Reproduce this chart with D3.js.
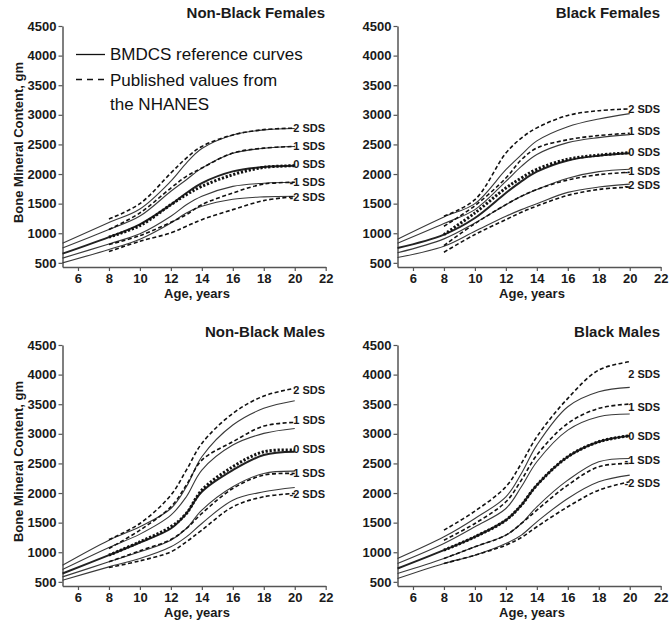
<!DOCTYPE html>
<html>
<head>
<meta charset="utf-8">
<script src="https://cdn.jsdelivr.net/npm/d3@7"></script>
<style>
  body { margin: 0; background: #fff; }
  svg { display: block; font-family: Arial, "Liberation Sans", sans-serif; }
</style>
</head>
<body>
<svg id="chart" width="670" height="625"></svg>
<script>
const refAges = [5, 8, 10, 12, 13, 14, 16, 18, 20];
const nhanesAges = [8, 10, 12, 13, 14, 16, 18, 20];
const sdsLabels = ['2 SDS', '1 SDS', '0 SDS', '-1 SDS', '-2 SDS'];
const xTicks = [6, 8, 10, 12, 14, 16, 18, 20, 22];
const yTicks = [500, 1000, 1500, 2000, 2500, 3000, 3500, 4000, 4500];

// Non-Black Females (rows: +2, +1, 0, -1, -2 SDS)
const nbfRef = [
  [830, 1180, 1410, 1880, 2185, 2430, 2660, 2745, 2770],
  [750, 1062, 1290, 1710, 1904, 2100, 2350, 2435, 2465],
  [655, 935, 1150, 1483, 1680, 1848, 2045, 2120, 2140],
  [580, 820, 990, 1286, 1480, 1624, 1792, 1845, 1860],
  [500, 725, 900, 1174, 1343, 1455, 1575, 1615, 1625]
];
const nbfNhanes = [
  [1240, 1500, 2017, 2270, 2466, 2660, 2750, 2775],
  [1062, 1343, 1764, 1961, 2101, 2354, 2438, 2466],
  [935, 1130, 1483, 1652, 1792, 1989, 2112, 2140],
  [809, 960, 1185, 1315, 1483, 1680, 1831, 1860],
  [690, 865, 1006, 1118, 1230, 1399, 1551, 1620]
];
const nbfLabelY = [2775, 2466, 2165, 1865, 1612];

// Black Females
const bfRef = [
  [900, 1275, 1500, 2073, 2326, 2560, 2800, 2930, 3020],
  [830, 1163, 1399, 1876, 2129, 2330, 2530, 2615, 2665],
  [750, 978, 1258, 1680, 1876, 2040, 2230, 2310, 2350],
  [670, 905, 1174, 1483, 1624, 1740, 1930, 2040, 2080],
  [590, 781, 1034, 1287, 1399, 1500, 1690, 1780, 1830]
];
const bfNhanes = [
  [1287, 1567, 2354, 2607, 2780, 2990, 3070, 3100],
  [1118, 1466, 1933, 2242, 2440, 2580, 2650, 2690],
  [978, 1343, 1764, 1933, 2080, 2250, 2320, 2360],
  [792, 1163, 1483, 1624, 1740, 1900, 1990, 2030],
  [680, 978, 1230, 1354, 1460, 1640, 1740, 1780]
];
const bfLabelY = [3090, 2719, 2365, 2045, 1820];

// Non-Black Males
const nbmRef = [
  [781, 1204, 1430, 1739, 2106, 2613, 3148, 3430, 3559],
  [708, 1080, 1306, 1627, 1937, 2387, 2810, 3007, 3091],
  [641, 951, 1165, 1401, 1655, 2021, 2387, 2641, 2697],
  [584, 838, 1007, 1204, 1401, 1711, 2106, 2331, 2370],
  [528, 753, 894, 1092, 1260, 1486, 1880, 2021, 2094]
];
const nbmNhanes = [
  [1215, 1486, 1965, 2387, 2838, 3345, 3638, 3768],
  [1063, 1373, 1767, 2134, 2556, 2866, 3131, 3193],
  [951, 1176, 1430, 1655, 2049, 2444, 2697, 2725],
  [838, 1024, 1215, 1401, 1655, 2077, 2303, 2331],
  [742, 855, 1007, 1176, 1373, 1767, 1937, 1993]
];
const nbmLabelY = [3739, 3232, 2737, 2331, 1982];

// Black Males
const bmRef = [
  [894, 1260, 1570, 1937, 2331, 2810, 3458, 3711, 3784],
  [810, 1148, 1430, 1739, 2106, 2528, 3063, 3289, 3334],
  [725, 1035, 1260, 1542, 1796, 2134, 2613, 2866, 2968],
  [641, 894, 1092, 1289, 1486, 1768, 2218, 2528, 2584],
  [556, 810, 951, 1148, 1289, 1514, 1909, 2190, 2303]
];
const bmNhanes = [
  [1373, 1694, 2106, 2500, 2951, 3599, 4077, 4218],
  [1204, 1486, 1852, 2218, 2641, 3176, 3430, 3503],
  [1035, 1260, 1542, 1796, 2134, 2613, 2866, 2968],
  [894, 1092, 1289, 1486, 1711, 2134, 2444, 2500],
  [810, 951, 1120, 1249, 1430, 1768, 2049, 2190]
];
const bmLabelY = [4010, 3458, 2968, 2556, 2162];

const panels = [
  { title: 'Non-Black Females', ref: nbfRef, nhanes: nbfNhanes, labelY: nbfLabelY, ox: 0, oy: 0, yTitle: true, legend: true },
  { title: 'Black Females', ref: bfRef, nhanes: bfNhanes, labelY: bfLabelY, ox: 335, oy: 0 },
  { title: 'Non-Black Males', ref: nbmRef, nhanes: nbmNhanes, labelY: nbmLabelY, ox: 0, oy: 319, yTitle: true },
  { title: 'Black Males', ref: bmRef, nhanes: bmNhanes, labelY: bmLabelY, ox: 335, oy: 319 }
];

const svg = d3.select('#chart');
const ink = '#1a1a1a';
const axisColor = '#555';

panels.forEach((p) => {
  const g = svg.append('g').attr('transform', `translate(${p.ox},${p.oy})`);

  const x = d3.scaleLinear().domain([5, 22]).range([62.5, 325.7]);
  const y = d3.scaleLinear().domain([430, 4500]).range([267, 26]);

  // axes
  const xAxis = g.append('g')
    .attr('transform', `translate(0,${y(430)})`)
    .call(d3.axisBottom(x).tickValues(xTicks).tickFormat(d3.format('d'))
      .tickSize(4).tickPadding(3).tickSizeOuter(0));
  const yAxis = g.append('g')
    .attr('transform', `translate(${x(5)},0)`)
    .call(d3.axisLeft(y).tickValues(yTicks).tickFormat(d3.format('d'))
      .tickSize(4).tickPadding(2).tickSizeOuter(0));
  [xAxis, yAxis].forEach((a) => {
    a.select('.domain').attr('stroke', axisColor).attr('stroke-width', 1.5);
    a.selectAll('.tick line').attr('stroke', axisColor).attr('stroke-width', 1.2);
    a.selectAll('.tick text')
      .attr('fill', ink)
      .style('font-size', '13px')
      .style('font-weight', 'bold')
      .style('font-family', 'Arial, "Liberation Sans", sans-serif');
  });

  const line = d3.line()
    .x((d) => x(d[0]))
    .y((d) => y(d[1]))
    .curve(d3.curveCatmullRom.alpha(0.5));

  // BMDCS reference curves (solid)
  p.ref.forEach((vals, i) => {
    g.append('path')
      .datum(refAges.map((a, k) => [a, vals[k]]))
      .attr('d', line)
      .attr('fill', 'none')
      .attr('stroke', i === 2 ? '#222' : '#3a3a3a')
      .attr('stroke-width', i === 2 ? 2 : 1.1);
  });

  // NHANES published values (dashed)
  p.nhanes.forEach((vals, i) => {
    g.append('path')
      .datum(nhanesAges.map((a, k) => [a, vals[k]]))
      .attr('d', line)
      .attr('fill', 'none')
      .attr('stroke', '#111')
      .attr('stroke-width', i === 2 ? 3 : 1.6)
      .attr('stroke-dasharray', i === 2 ? '2.2,1.8' : '4,2.5');
  });

  // SDS labels
  g.selectAll('.sds')
    .data(sdsLabels)
    .join('text')
    .attr('x', 325)
    .attr('y', (d, i) => y(p.labelY[i]))
    .attr('dy', '0.35em')
    .attr('text-anchor', 'end')
    .attr('fill', ink)
    .style('font-size', '11px')
    .style('font-weight', 'bold')
    .text((d) => d);

  // panel title
  g.append('text')
    .attr('x', 325)
    .attr('y', 18)
    .attr('text-anchor', 'end')
    .attr('fill', ink)
    .style('font-size', '15px')
    .style('font-weight', 'bold')
    .text(p.title);

  // axis titles
  g.append('text')
    .attr('x', 197)
    .attr('y', 298)
    .attr('text-anchor', 'middle')
    .attr('fill', ink)
    .style('font-size', '13px')
    .style('font-weight', 'bold')
    .text('Age, years');

  if (p.yTitle) {
    g.append('text')
      .attr('transform', `translate(23,${(y(430) + y(4500)) / 2 - 4}) rotate(-90)`)
      .attr('text-anchor', 'middle')
      .attr('fill', ink)
      .style('font-size', '13px')
      .style('font-weight', 'bold')
      .text('Bone Mineral Content, gm');
  }

  if (p.legend) {
    const lg = g.append('g');
    lg.append('line')
      .attr('x1', 76).attr('x2', 105).attr('y1', 54.5).attr('y2', 54.5)
      .attr('stroke', '#111').attr('stroke-width', 1.3);
    lg.append('line')
      .attr('x1', 76).attr('x2', 105).attr('y1', 79.5).attr('y2', 79.5)
      .attr('stroke', '#111').attr('stroke-width', 1.3)
      .attr('stroke-dasharray', '6,5');
    const legendText = [
      ['BMDCS reference curves', 110, 60],
      ['Published values from', 110, 86],
      ['the NHANES', 110, 110]
    ];
    legendText.forEach(([t, tx, ty]) => {
      lg.append('text')
        .attr('x', tx).attr('y', ty)
        .attr('fill', '#111')
        .style('font-size', '17px')
        .text(t);
    });
  }
});
</script>
</body>
</html>
